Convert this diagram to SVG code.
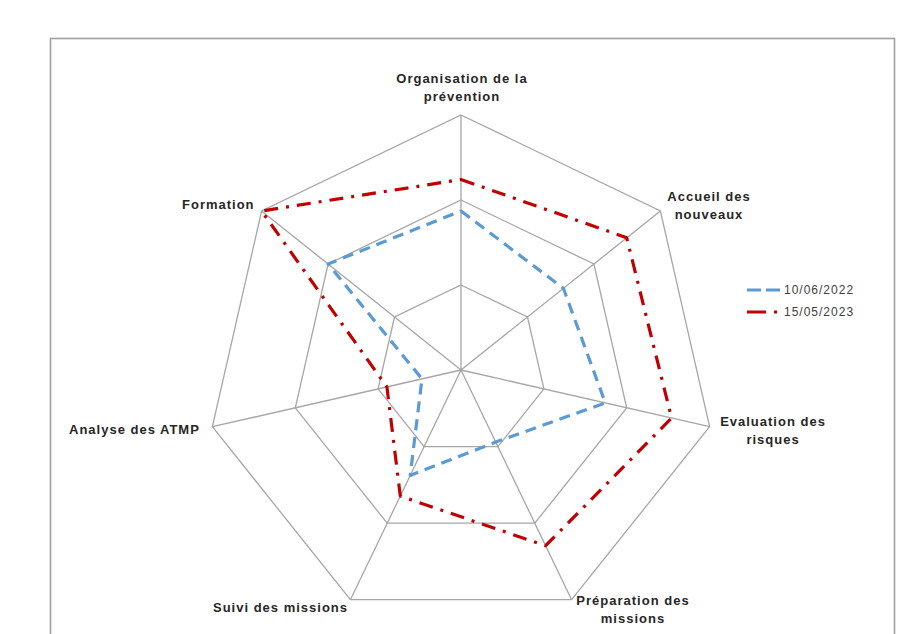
<svg xmlns="http://www.w3.org/2000/svg" width="910" height="634" viewBox="0 0 910 634">
<style>
.grid{fill:none;stroke:#a6a6a6;stroke-width:1.3}
.lbl{font-family:"Liberation Sans",Arial,sans-serif;font-size:13px;font-weight:bold;fill:#262626;letter-spacing:1px}
.leg{font-family:"Liberation Sans",Arial,sans-serif;font-size:12px;fill:#404040;letter-spacing:1px}
.s1{fill:none;stroke:#5b9bd5;stroke-width:3.2;stroke-dasharray:11 7;stroke-linejoin:round}
.s2{fill:none;stroke:#c00000;stroke-width:3.2;stroke-dasharray:14 8 3 8;stroke-linejoin:round}
</style>
<rect x="0" y="0" width="910" height="634" fill="#ffffff"/>
<rect x="50.5" y="38.5" width="844" height="620" fill="#ffffff" stroke="#a0a0a0" stroke-width="1.6"/>
<g id="grid">
<polygon class="grid" points="461,115 660.4,211 709.6,426.7 571.6,599.7 350.4,599.7 212.4,426.7 261.6,211"/>
<polygon class="grid" points="461,200 593.9,264 626.7,407.8 534.8,523.2 387.2,523.2 295.3,407.8 328.1,264"/>
<polygon class="grid" points="461,285 527.5,317 543.9,388.9 497.9,446.6 424.1,446.6 378.1,388.9 394.5,317"/>
<path class="grid" d="M461,370L461,115M461,370L660.4,211M461,370L709.6,426.7M461,370L571.6,599.7M461,370L350.4,599.7M461,370L212.4,426.7M461,370L261.6,211"/>
</g>
<g id="series">
<polygon id="s2022" class="s1" points="461,211 563.4,288.3 605.3,402.9 495.7,442.1 410.2,475.4 422,378.9 328.1,264"/>
<polygon id="s2023" class="s2" points="461,179.5 626.7,237.8 671.6,418.1 545.6,545.7 400.3,496.1 386.9,386.9 261.6,211"/>
</g>
<g id="labels">
<g id="n-org"><text class="lbl" x="462" y="83" text-anchor="middle">Organisation de la</text><text class="lbl" x="462" y="101" text-anchor="middle">prévention</text></g>
<g id="n-acc"><text class="lbl" x="709" y="201" text-anchor="middle">Accueil des</text><text class="lbl" x="709" y="219" text-anchor="middle">nouveaux</text></g>
<g id="n-eval"><text class="lbl" x="773" y="426" text-anchor="middle">Evaluation des</text><text class="lbl" x="773" y="444" text-anchor="middle">risques</text></g>
<g id="n-prep"><text class="lbl" x="633" y="605" text-anchor="middle">Préparation des</text><text class="lbl" x="633" y="623" text-anchor="middle">missions</text></g>
<g id="n-suivi"><text class="lbl" x="213" y="612">Suivi des missions</text></g>
<g id="n-atmp"><text class="lbl" x="69" y="434">Analyse des ATMP</text></g>
<g id="n-form"><text class="lbl" x="182" y="209">Formation</text></g>
</g>
<g id="legend">
<path class="s1" d="M747,290H783" style="stroke-dasharray:14 5"/>
<text class="leg" x="784" y="294">10/06/2022</text>
<path class="s2" d="M747,312H783" style="stroke-dasharray:19 8 3 20"/>
<text class="leg" x="784" y="316">15/05/2023</text>
</g>
</svg>
